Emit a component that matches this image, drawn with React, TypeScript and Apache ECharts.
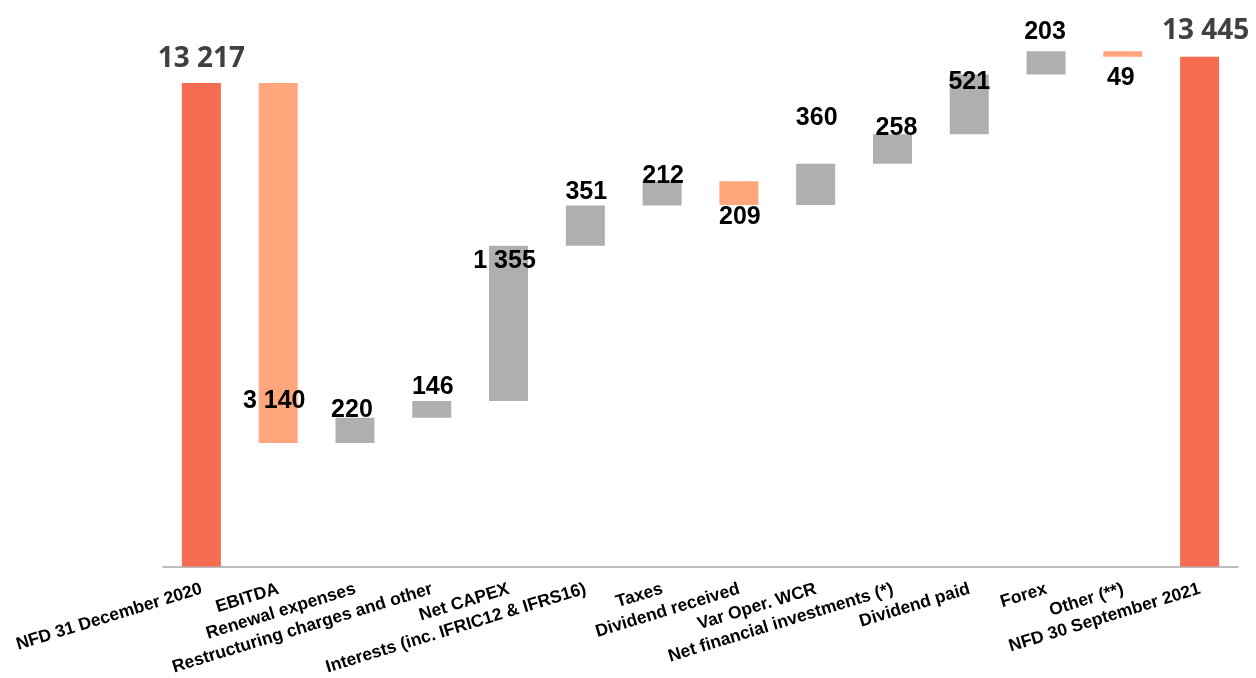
import React, { useEffect, useRef } from "react";
import * as echarts from "echarts";

const categories = [
  "NFD 31 December 2020",
  "EBITDA",
  "Renewal expenses",
  "Restructuring charges and other",
  "Net CAPEX",
  "Interests (inc. IFRIC12 & IFRS16)",
  "Taxes",
  "Dividend received",
  "Var Oper. WCR",
  "Net financial investments (*)",
  "Dividend paid",
  "Forex",
  "Other (**)",
  "NFD 30 September 2021",
];
const startValue = 13217;
const endValue = 13445;
const changes = [-3140, 220, 146, 1355, 351, 212, -209, 360, 258, 521, 203, -49];

// label placement styling (position, distance, x offset) per bar
const labelPlacement: [string, number, number][] = [
  ["top", 13, 0],
  ["insideBottom", 32, -4],
  ["top", -3, -3],
  ["top", 4, 1],
  ["insideTop", 1, -4],
  ["top", 3, 1],
  ["top", -5, 1],
  ["bottom", -3, 1],
  ["top", 35, 1],
  ["top", -4, 4],
  ["top", -18, 0],
  ["top", 9, -1],
  ["bottom", 7, -2],
  ["top", 15, 6],
];

const COLOR_TOTAL = "#F56C50";
const COLOR_DOWN = "#FFA67D";
const COLOR_UP = "#AFAFAF";

const fmt = (n: number) => String(Math.abs(n)).replace(/\B(?=(\d{3})+(?!\d))/g, " ");

export default function App() {
  const ref = useRef<HTMLDivElement>(null);
  useEffect(() => {
    document.body.style.margin = "0";
    const chart = echarts.init(ref.current!, null, { renderer: "svg" });

    const base: (number | string)[] = [];
    const vis: any[] = [];
    const mk = (i: number, v: number, color: string, txt: string, total: boolean) => {
      const [pos, dist, off] = labelPlacement[i];
      return {
        value: v,
        itemStyle: { color },
        label: {
          show: true,
          position: pos,
          distance: dist,
          offset: [off, 0],
          formatter: () => txt,
          fontFamily: total ? "Open Sans" : "Liberation Sans, Arial",
          fontWeight: "bold",
          fontSize: total ? 28 : 25,
          color: total ? "#404040" : "#000000",
        },
      };
    };
    let cum = startValue;
    base.push(0);
    vis.push(mk(0, startValue, COLOR_TOTAL, fmt(startValue), true));
    changes.forEach((c, k) => {
      const i = k + 1;
      if (c >= 0) {
        base.push(cum);
        vis.push(mk(i, c, COLOR_UP, fmt(c), false));
        cum += c;
      } else {
        cum += c;
        base.push(cum);
        vis.push(mk(i, -c, COLOR_DOWN, fmt(c), false));
      }
    });
    base.push(0);
    vis.push(mk(categories.length - 1, endValue, COLOR_TOTAL, fmt(endValue), true));

    chart.setOption({
      animation: false,
      grid: { left: 163, right: 18, top: 27.6, bottom: 111.5, containLabel: false },
      xAxis: {
        type: "category",
        data: categories,
        axisLine: { lineStyle: { color: "#A6A6A6", width: 1.5 } },
        axisTick: { show: false },
        axisLabel: {
          interval: 0,
          rotate: 17,
          margin: 21,
          fontFamily: "Liberation Sans, Arial",
          fontWeight: "bold",
          fontSize: 17.5,
          color: "#000000",
        },
      },
      yAxis: {
        type: "value",
        min: 9000,
        max: 13700,
        show: false,
        splitLine: { show: false },
      },
      series: [
        {
          type: "bar",
          stack: "wf",
          data: base,
          barWidth: 39,
          itemStyle: { color: "transparent" },
          emphasis: { disabled: true },
          silent: true,
        },
        {
          type: "bar",
          stack: "wf",
          data: vis,
          barWidth: 39,
        },
      ],
    });
    return () => chart.dispose();
  }, []);
  return (
    <div
      ref={ref}
      style={{ position: "fixed", left: 0, top: 0, width: 1256, height: 678 }}
    />
  );
}
